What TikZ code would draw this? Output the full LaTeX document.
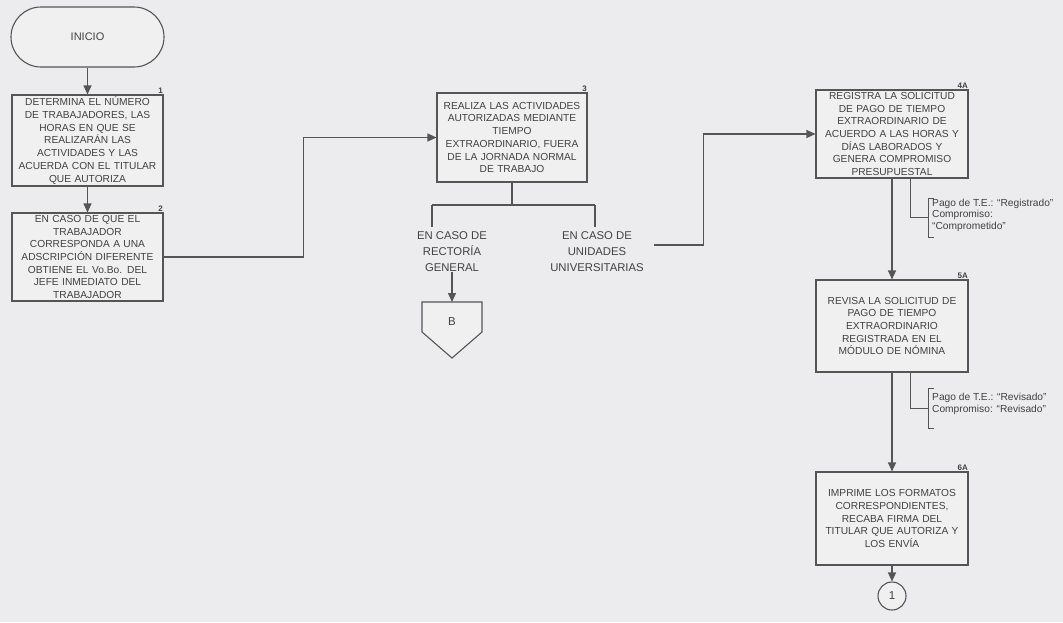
\documentclass[tikz,border=0pt]{standalone}
\usepackage{fontspec}
\setmainfont{Liberation Sans}
\usetikzlibrary{arrows.meta,calc}
\definecolor{bg}{RGB}{236,236,238}
\definecolor{boxbg}{RGB}{240,240,241}
\definecolor{ink}{RGB}{85,85,85}
\definecolor{txt}{RGB}{65,65,65}
\begin{document}
\begin{tikzpicture}[x=1pt,y=-1pt,
  line/.style={draw=ink, line width=1.1pt},
  arr/.style={line, -{Triangle[length=9pt,width=8pt]}},
  proc/.style={line, fill=boxbg, text=txt, align=center, inner xsep=1pt, inner ysep=0pt,
    text width=147pt, font=\fontsize{10.2}{12.7}\selectfont},
  num/.style={anchor=south east, inner sep=0.5pt, text=txt, font=\bfseries\fontsize{8}{8}\selectfont},
  cas/.style={align=center, text=txt, inner sep=0pt, font=\fontsize{11.3}{16}\selectfont},
  ann/.style={anchor=west, align=left, inner sep=0pt, text=txt, font=\fontsize{10.2}{11.5}\selectfont}
]
\useasboundingbox (0,0) rectangle (1063,622);
\fill[bg] (0,0) rectangle (1063,622);

% start
\node[line, fill=boxbg, rounded corners=30pt, minimum width=153pt, minimum height=60pt, text=txt,
  font=\fontsize{11}{12}\selectfont] (ini) at (87.5,37) {INICIO};

% column 1
\node[proc, minimum width=151pt, minimum height=91pt] (b1) at (87.5,140.5)
  {DETERMINA EL NÚMERO\\DE TRABAJADORES, LAS\\HORAS EN QUE SE\\REALIZARÁN LAS\\ACTIVIDADES Y LAS\\ACUERDA CON EL TITULAR\\QUE AUTORIZA};
\node[num] at (b1.north east) {1};
\node[proc, minimum width=151pt, minimum height=88pt] (b2) at (87.5,257)
  {EN CASO DE QUE EL\\TRABAJADOR\\CORRESPONDA A UNA\\ADSCRIPCIÓN DIFERENTE\\OBTIENE EL Vo.Bo. DEL\\JEFE INMEDIATO DEL\\TRABAJADOR};
\node[num] at (b2.north east) {2};
\draw[arr] (ini.south) -- (b1.north);
\draw[arr] (b1.south) -- (b2.north);

% column 2
\node[proc, minimum width=150pt, minimum height=89pt] (b3) at (512,137.5)
  {REALIZA LAS ACTIVIDADES\\AUTORIZADAS MEDIANTE\\TIEMPO\\EXTRAORDINARIO, FUERA\\DE LA JORNADA NORMAL\\DE TRABAJO};
\node[num] at (b3.north east) {3};
\draw[arr] (b2.east) -- ++(140,0) |- (b3.west);

\coordinate (jl) at (432,205);
\coordinate (jr) at (595,205);
\draw[line] (b3.south) -- (b3.south |- jl);
\draw[line] (jl) -- (jr);
\draw[line] (jl) -- ++(0,22);
\draw[line] (jr) -- ++(0,22);
\node[cas] (rg) at (452,252) {EN CASO DE\\RECTORÍA\\GENERAL};
\node[cas] (uu) at (597,252) {EN CASO DE\\UNIDADES\\UNIVERSITARIAS};

\coordinate (Btop) at (452,302);
\draw[line, fill=boxbg] (422,302) -- (482,302) -- (482,332) -- (452,358) -- (422,332) -- cycle;
\node[text=txt, font=\fontsize{11.5}{12}\selectfont] (B) at (452,322) {B};
\draw[arr] (rg.south) -- (Btop);

% column 3
\node[proc, minimum width=152pt, minimum height=88pt] (b4) at (892,134)
  {REGISTRA LA SOLICITUD\\DE PAGO DE TIEMPO\\EXTRAORDINARIO DE\\ACUERDO A LAS HORAS Y\\DÍAS LABORADOS Y\\GENERA COMPROMISO\\PRESUPUESTAL};
\node[num] at (b4.north east) {4A};
\draw[arr] ($(uu.east)+(10,-7)$) -- ++(50,0) |- (b4.west);

\node[proc, minimum width=152pt, minimum height=92pt] (b5) at (892,326)
  {REVISA LA SOLICITUD DE\\PAGO DE TIEMPO\\EXTRAORDINARIO\\REGISTRADA EN EL\\MÓDULO DE NÓMINA};
\node[num] at (b5.north east) {5A};
\draw[arr] (b4.south) -- (b5.north);

\node[proc, minimum width=152pt, minimum height=93pt] (b6) at (892,518.5)
  {IMPRIME LOS FORMATOS\\CORRESPONDIENTES,\\RECABA FIRMA DEL\\TITULAR QUE AUTORIZA Y\\LOS ENVÍA};
\node[num] at (b6.north east) {6A};
\draw[arr] (b5.south) -- (b6.north);

\node[line, circle, fill=boxbg, minimum size=28pt, inner sep=0pt, text=txt,
  font=\fontsize{11.5}{12}\selectfont] (c1) at (892,596) {1};
\draw[arr] (b6.south) -- (c1.north);

% annotations
\draw[line, line width=0.8pt] ($(b4.south)+(18,0)$) |- (928,217);
\draw[line, line width=0.8pt] (934,198) -- (928,198) -- (928,237) -- (934,237);
\node[ann] (a1) at (932,215) {Pago de T.E.: “Registrado”\\Compromiso:\\“Comprometido”};

\draw[line, line width=0.8pt] ($(b5.south)+(18,0)$) |- (928,408);
\draw[line, line width=0.8pt] (934,388) -- (928,388) -- (928,428) -- (934,428);
\node[ann] (a2) at (932,404) {Pago de T.E.: “Revisado”\\Compromiso: “Revisado”};
\end{tikzpicture}
\end{document}
